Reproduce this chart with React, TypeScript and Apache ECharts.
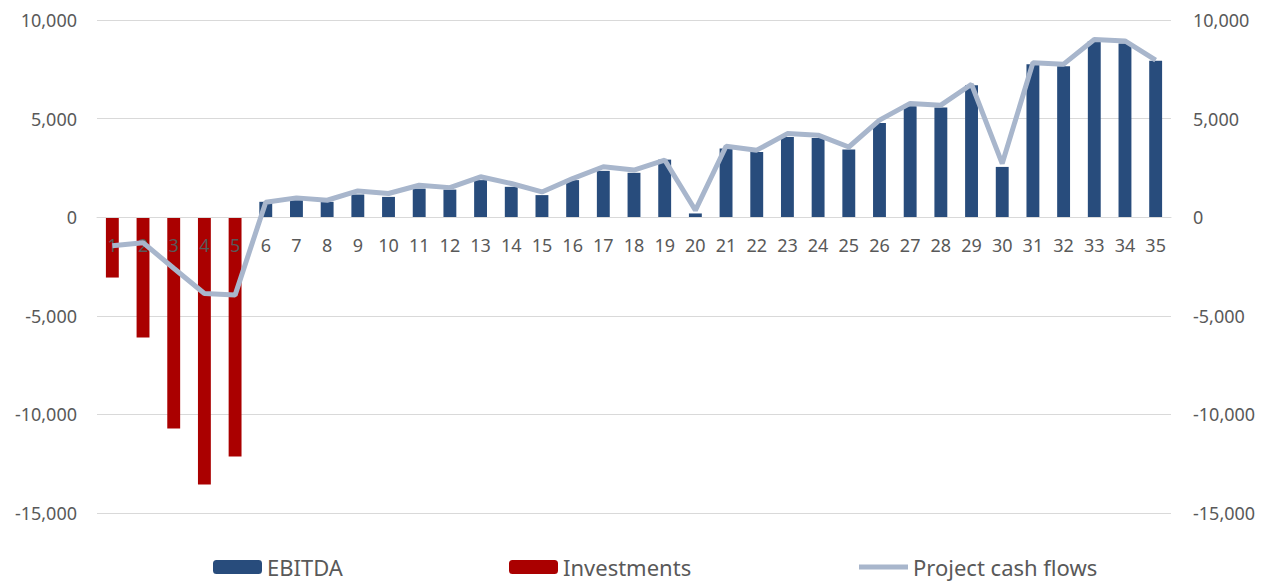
import React, { useEffect, useRef } from "react";
import * as echarts from "echarts";

const years = Array.from({ length: 35 }, (_, i) => String(i + 1));

const ebitda = [
  0, 0, 0, 0, 0, 780, 860, 780, 1150, 1030,
  1450, 1400, 1880, 1540, 1120, 1880, 2350, 2250, 2920, 190,
  3480, 3310, 4070, 4010, 3430, 4780, 5630, 5560, 6690, 2550,
  7760, 7660, 8940, 8810, 7930,
];

const investments = [
  -3060, -6100, -10710, -13550, -12130, 0, 0, 0, 0, 0,
  0, 0, 0, 0, 0, 0, 0, 0, 0, 0,
  0, 0, 0, 0, 0, 0, 0, 0, 0, 0,
  0, 0, 0, 0, 0,
];

const cashFlows = [
  -1450, -1290, -2590, -3870, -3950, 760, 980, 860, 1330, 1200,
  1620, 1500, 2050, 1710, 1280, 1960, 2560, 2390, 2900, 350,
  3600, 3400, 4240, 4160, 3560, 4920, 5770, 5680, 6740, 2720,
  7830, 7760, 9010, 8940, 7960,
];

const yTicks = { min: -15000, max: 10000, interval: 5000 };

const FONT = "'Noto Sans', sans-serif";
const TEXT = "#595959";

const GRID_TOP = 20;
const GRID_BOTTOM = 70;
const CHART_H = 583;

const fmt = (v: number) => v.toLocaleString("en-US");

export default function App() {
  const ref = useRef<HTMLDivElement>(null);
  useEffect(() => {
    if (!ref.current) return;
    const chart = echarts.init(ref.current, null, { renderer: "svg" });
    const legendText = { fontSize: 22, color: TEXT, fontFamily: FONT };
    const plotH = CHART_H - GRID_TOP - GRID_BOTTOM;
    const zeroOffset = (plotH * (0 - yTicks.min)) / (yTicks.max - yTicks.min);
    chart.setOption({
      animation: false,
      textStyle: { fontFamily: FONT },
      grid: { left: 97, right: 103, top: GRID_TOP, bottom: GRID_BOTTOM },
      legend: [
        {
          data: ["EBITDA"], left: 208, top: 551, itemWidth: 49, itemHeight: 14,
          textStyle: legendText,
        },
        {
          data: ["Investments"], left: 504, top: 551, itemWidth: 49, itemHeight: 14,
          textStyle: legendText,
        },
        {
          data: [{ name: "Project cash flows", icon: "rect", itemStyle: { color: "#A8B6CC" } }],
          left: 854, top: 551, itemWidth: 49, itemHeight: 5,
          textStyle: legendText,
        },
      ],
      xAxis: {
        type: "category",
        data: years,
        z: 3,
        offset: -zeroOffset,
        axisLine: { onZero: false, lineStyle: { color: "#D9D9D9", width: 1 } },
        axisTick: { show: false },
        axisLabel: { color: TEXT, fontSize: 18, fontFamily: FONT, margin: 19, interval: 0 },
      },
      yAxis: [
        {
          type: "value", ...yTicks,
          axisLine: { show: false }, axisTick: { show: false },
          axisLabel: { color: TEXT, fontSize: 18, fontFamily: FONT, margin: 20, formatter: fmt },
          splitLine: { lineStyle: { color: "#D9D9D9", width: 1 } },
        },
        {
          type: "value", ...yTicks,
          axisLine: { show: false }, axisTick: { show: false },
          axisLabel: { color: TEXT, fontSize: 18, fontFamily: FONT, margin: 22, formatter: fmt },
          splitLine: { show: false },
        },
      ],
      series: [
        {
          name: "EBITDA", type: "bar", data: ebitda, stack: "s",
          barWidth: "42%", itemStyle: { color: "#284C7C" }, z: 2,
        },
        {
          name: "Investments", type: "bar", data: investments, stack: "s",
          barWidth: "42%", itemStyle: { color: "#AA0000" }, z: 2,
        },
        {
          name: "Project cash flows", type: "line", data: cashFlows, yAxisIndex: 1,
          symbol: "none", z: 5,
          lineStyle: { color: "#A8B6CC", width: 5 },
          itemStyle: { color: "#A8B6CC" },
        },
      ],
    });
    return () => chart.dispose();
  }, []);
  return (
    <div
      ref={ref}
      style={{ position: "fixed", left: 0, top: 0, width: 1274, height: 583, background: "#fff" }}
    />
  );
}
